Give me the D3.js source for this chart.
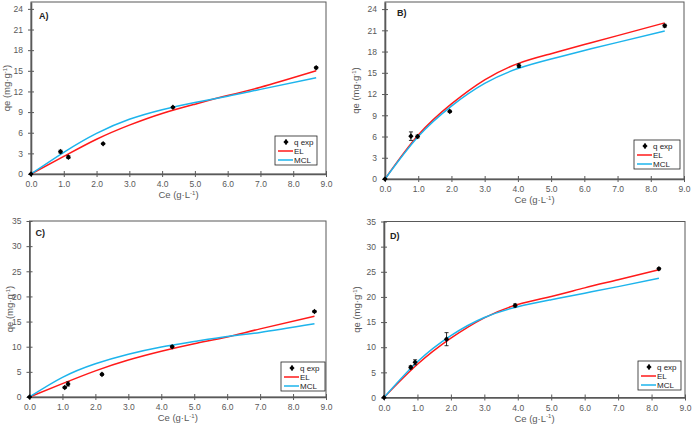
<!DOCTYPE html>
<html>
<head>
<meta charset="utf-8">
<script src="https://cdn.jsdelivr.net/npm/d3@7"></script>
<style>
body { margin: 0; background: #fff; }
svg text { font-family: "Liberation Sans", Arial, sans-serif; }
</style>
</head>
<body>
<svg id="chart" width="693" height="426"></svg>
<script>
// x ticks shared by all four panels
const xTicks = [0, 1, 2, 3, 4, 5, 6, 7, 8, 9]
const yTicksAB = [0, 3, 6, 9, 12, 15, 18, 21, 24]
const yTicksCD = [0, 5, 10, 15, 20, 25, 30, 35]

// panel A
const aCe = [0, 0.9, 1.14, 2.2, 4.33, 8.7]
const aQe = [0, 3.25, 2.45, 4.4, 9.7, 15.45]
const aErr = [0, 0.2, 0.2, 0.1, 0.1, 0.15]
const aFitCe = [0, 1, 2, 3, 4, 5, 6, 7, 8.7]
const aEL = [0, 2.55, 5.05, 7.1, 8.8, 10.15, 11.4, 12.6, 15.0]
const aMCL = [0, 3.15, 5.9, 7.95, 9.35, 10.4, 11.3, 12.3, 14.0]

// panel B
const bCe = [0, 0.78, 0.98, 1.95, 4.03, 8.42]
const bQe = [0, 6.05, 6.0, 9.55, 16.0, 21.65]
const bErr = [0, 0.6, 0.2, 0.15, 0.25, 0.2]
const bFitCe = [0, 1, 2, 3, 4, 5, 6, 7, 8.42]
const bEL = [0, 6.2, 10.6, 14.0, 16.3, 17.7, 19.0, 20.25, 22.05]
const bMCL = [0, 6.0, 10.3, 13.5, 15.6, 16.95, 18.15, 19.3, 20.9]

// panel C
const cCe = [0, 1.07, 1.17, 2.2, 4.33, 8.65]
const cQe = [0, 1.9, 2.6, 4.5, 10.0, 17.0]
const cErr = [0, 0.2, 0.4, 0.2, 0.2, 0.2]
const cFitCe = [0, 1, 2, 3, 4, 5, 6, 7, 8.65]
const cEL = [0, 2.65, 5.2, 7.35, 9.1, 10.6, 11.95, 13.55, 16.05]
const cMCL = [0, 3.9, 6.6, 8.5, 9.95, 11.05, 12.05, 12.85, 14.55]

// panel D
const dCe = [0, 0.8, 0.93, 1.87, 3.92, 8.22]
const dQe = [0, 6.0, 7.0, 11.6, 18.3, 25.6]
const dErr = [0, 0.3, 0.5, 1.3, 0.3, 0.2]
const dFitCe = [0, 1, 2, 3, 4, 5, 6, 7, 8.22]
const dEL = [0, 6.6, 11.8, 15.85, 18.5, 20.1, 21.8, 23.4, 25.4]
const dMCL = [0, 7.1, 12.3, 15.9, 18.05, 19.45, 20.75, 22.05, 23.7]

const legendLabels = ['q exp', 'EL', 'MCL']
const elColor = '#ff1a1a'
const mclColor = '#1db4ec'
const axisColor = '#595959'

const svg = d3.select('#chart')

// small square-ish diamond marker
let diamond = (cx, cy) => 'M' + cx + ',' + (cy - 2.8) + 'L' + (cx + 2.6) + ',' + cy +
    'L' + cx + ',' + (cy + 2.8) + 'L' + (cx - 2.6) + ',' + cy + 'Z'

let drawPanel = (p) => {
    const g = svg.append('g')
    const x = d3.scaleLinear().domain([0, 9]).range([p.left, p.right])
    const y = d3.scaleLinear().domain([0, p.yMax]).range([p.bottom, p.top])

    g.append('rect')
        .attr('x', p.left)
        .attr('y', p.top)
        .attr('width', p.right - p.left)
        .attr('height', p.bottom - p.top)
        .attr('fill', 'none')
        .attr('stroke', axisColor)
        .attr('stroke-width', 1)

    const xa = g.append('g')
        .attr('transform', 'translate(0,' + p.bottom + ')')
        .call(d3.axisBottom(x).tickValues(xTicks).tickFormat(d3.format('.1f'))
            .tickSizeInner(3).tickSizeOuter(0).tickPadding(4))
    xa.selectAll('.tick line').attr('y1', -3)

    const ya = g.append('g')
        .attr('transform', 'translate(' + p.left + ',0)')
        .call(d3.axisLeft(y).tickValues(p.yTicks)
            .tickSizeInner(3).tickSizeOuter(0).tickPadding(5))
    ya.selectAll('.tick line').attr('x1', 3)

    ;[xa, ya].forEach(a => {
        a.attr('font-size', 8.5)
        a.select('.domain').attr('stroke', axisColor).attr('stroke-width', 1.6)
        a.selectAll('.tick line').attr('stroke', axisColor)
        a.selectAll('.tick text').attr('fill', axisColor)
    })

    // axis titles
    const xt = g.append('text')
        .attr('x', (p.left + p.right) / 2)
        .attr('y', p.bottom + 24)
        .attr('text-anchor', 'middle')
        .attr('font-size', 9.5)
        .attr('fill', axisColor)
    xt.append('tspan').text('Ce (g·L')
    xt.append('tspan').text('-1').attr('font-size', 6).attr('dy', -3.5)
    xt.append('tspan').text(')').attr('dy', 3.5)

    const yt = g.append('text')
        .attr('transform', 'translate(' + p.yTitleX + ',' + (p.top + p.bottom) / 2 + ') rotate(-90)')
        .attr('text-anchor', 'middle')
        .attr('font-size', 9.5)
        .attr('fill', axisColor)
    yt.append('tspan').text('qe (mg·g')
    yt.append('tspan').text('-1').attr('font-size', 6).attr('dy', -3.5)
    yt.append('tspan').text(')').attr('dy', 3.5)

    g.append('text')
        .text(p.label)
        .attr('x', p.left + p.labelDx)
        .attr('y', p.top + p.labelDy)
        .attr('font-size', 9)
        .attr('font-weight', 'bold')
        .attr('fill', '#222')

    // fitted curves
    const line = d3.line()
        .x(d => x(d[0]))
        .y(d => y(d[1]))
        .curve(d3.curveNatural)

    g.append('path')
        .attr('d', line(p.fitCe.map((c, i) => [c, p.el[i]])))
        .attr('fill', 'none')
        .attr('stroke', elColor)
        .attr('stroke-width', 1.5)

    g.append('path')
        .attr('d', line(p.fitCe.map((c, i) => [c, p.mcl[i]])))
        .attr('fill', 'none')
        .attr('stroke', mclColor)
        .attr('stroke-width', 1.5)

    // experimental points with error bars
    const pts = p.ce.map((c, i) => ({ ce: c, qe: p.qe[i], err: p.err[i] }))
    const eb = g.selectAll('.err').data(pts).enter().append('g')
    eb.append('line')
        .attr('x1', d => x(d.ce)).attr('x2', d => x(d.ce))
        .attr('y1', d => y(d.qe - d.err)).attr('y2', d => y(d.qe + d.err))
        .attr('stroke', '#000').attr('stroke-width', 0.8)
    ;[-1, 1].forEach(s => {
        eb.append('line')
            .attr('x1', d => x(d.ce) - 2).attr('x2', d => x(d.ce) + 2)
            .attr('y1', d => y(d.qe + s * d.err)).attr('y2', d => y(d.qe + s * d.err))
            .attr('stroke', '#000').attr('stroke-width', 0.8)
    })

    g.selectAll('.pt').data(pts).enter().append('path')
        .attr('d', d => diamond(x(d.ce), y(d.qe)))
        .attr('fill', '#000')

    // legend
    const lg = g.append('g').attr('transform', 'translate(' + p.legX + ',' + p.legY + ')')
    lg.append('rect')
        .attr('width', p.legW).attr('height', 29)
        .attr('fill', '#fff').attr('stroke', '#222').attr('stroke-width', 0.8)
    legendLabels.forEach((lab, i) => {
        const ry = 6 + i * 9
        if (i === 0) {
            lg.append('line').attr('x1', 11).attr('x2', 11).attr('y1', ry - 3).attr('y2', ry + 3)
                .attr('stroke', '#000').attr('stroke-width', 0.8)
            lg.append('path').attr('d', diamond(11, ry)).attr('fill', '#000')
        } else {
            lg.append('line').attr('x1', 3).attr('x2', 18).attr('y1', ry).attr('y2', ry)
                .attr('stroke', i === 1 ? elColor : mclColor).attr('stroke-width', 1.5)
        }
        lg.append('text').text(lab)
            .attr('x', 19).attr('y', ry + 3)
            .attr('font-size', 8).attr('fill', '#222')
    })
}

drawPanel({ label: 'A)', left: 31, right: 326, top: 2, bottom: 174, yMax: 25, yTicks: yTicksAB,
    yTitleX: 10, labelDx: 8, labelDy: 16.5, legX: 275, legY: 136, legW: 42,
    ce: aCe, qe: aQe, err: aErr, fitCe: aFitCe, el: aEL, mcl: aMCL })
drawPanel({ label: 'B)', left: 385, right: 684, top: 2, bottom: 179, yMax: 25, yTicks: yTicksAB,
    yTitleX: 359, labelDx: 12, labelDy: 14, legX: 634, legY: 140, legW: 46,
    ce: bCe, qe: bQe, err: bErr, fitCe: bFitCe, el: bEL, mcl: bMCL })
drawPanel({ label: 'C)', left: 29.5, right: 326, top: 221, bottom: 397, yMax: 35, yTicks: yTicksCD,
    yTitleX: 13, labelDx: 6, labelDy: 15, legX: 281, legY: 362, legW: 44,
    ce: cCe, qe: cQe, err: cErr, fitCe: cFitCe, el: cEL, mcl: cMCL })
drawPanel({ label: 'D)', left: 384, right: 685, top: 221.5, bottom: 397.5, yMax: 35, yTicks: yTicksCD,
    yTitleX: 360, labelDx: 6, labelDy: 17, legX: 638, legY: 361, legW: 43,
    ce: dCe, qe: dQe, err: dErr, fitCe: dFitCe, el: dEL, mcl: dMCL })
</script>
</body>
</html>
